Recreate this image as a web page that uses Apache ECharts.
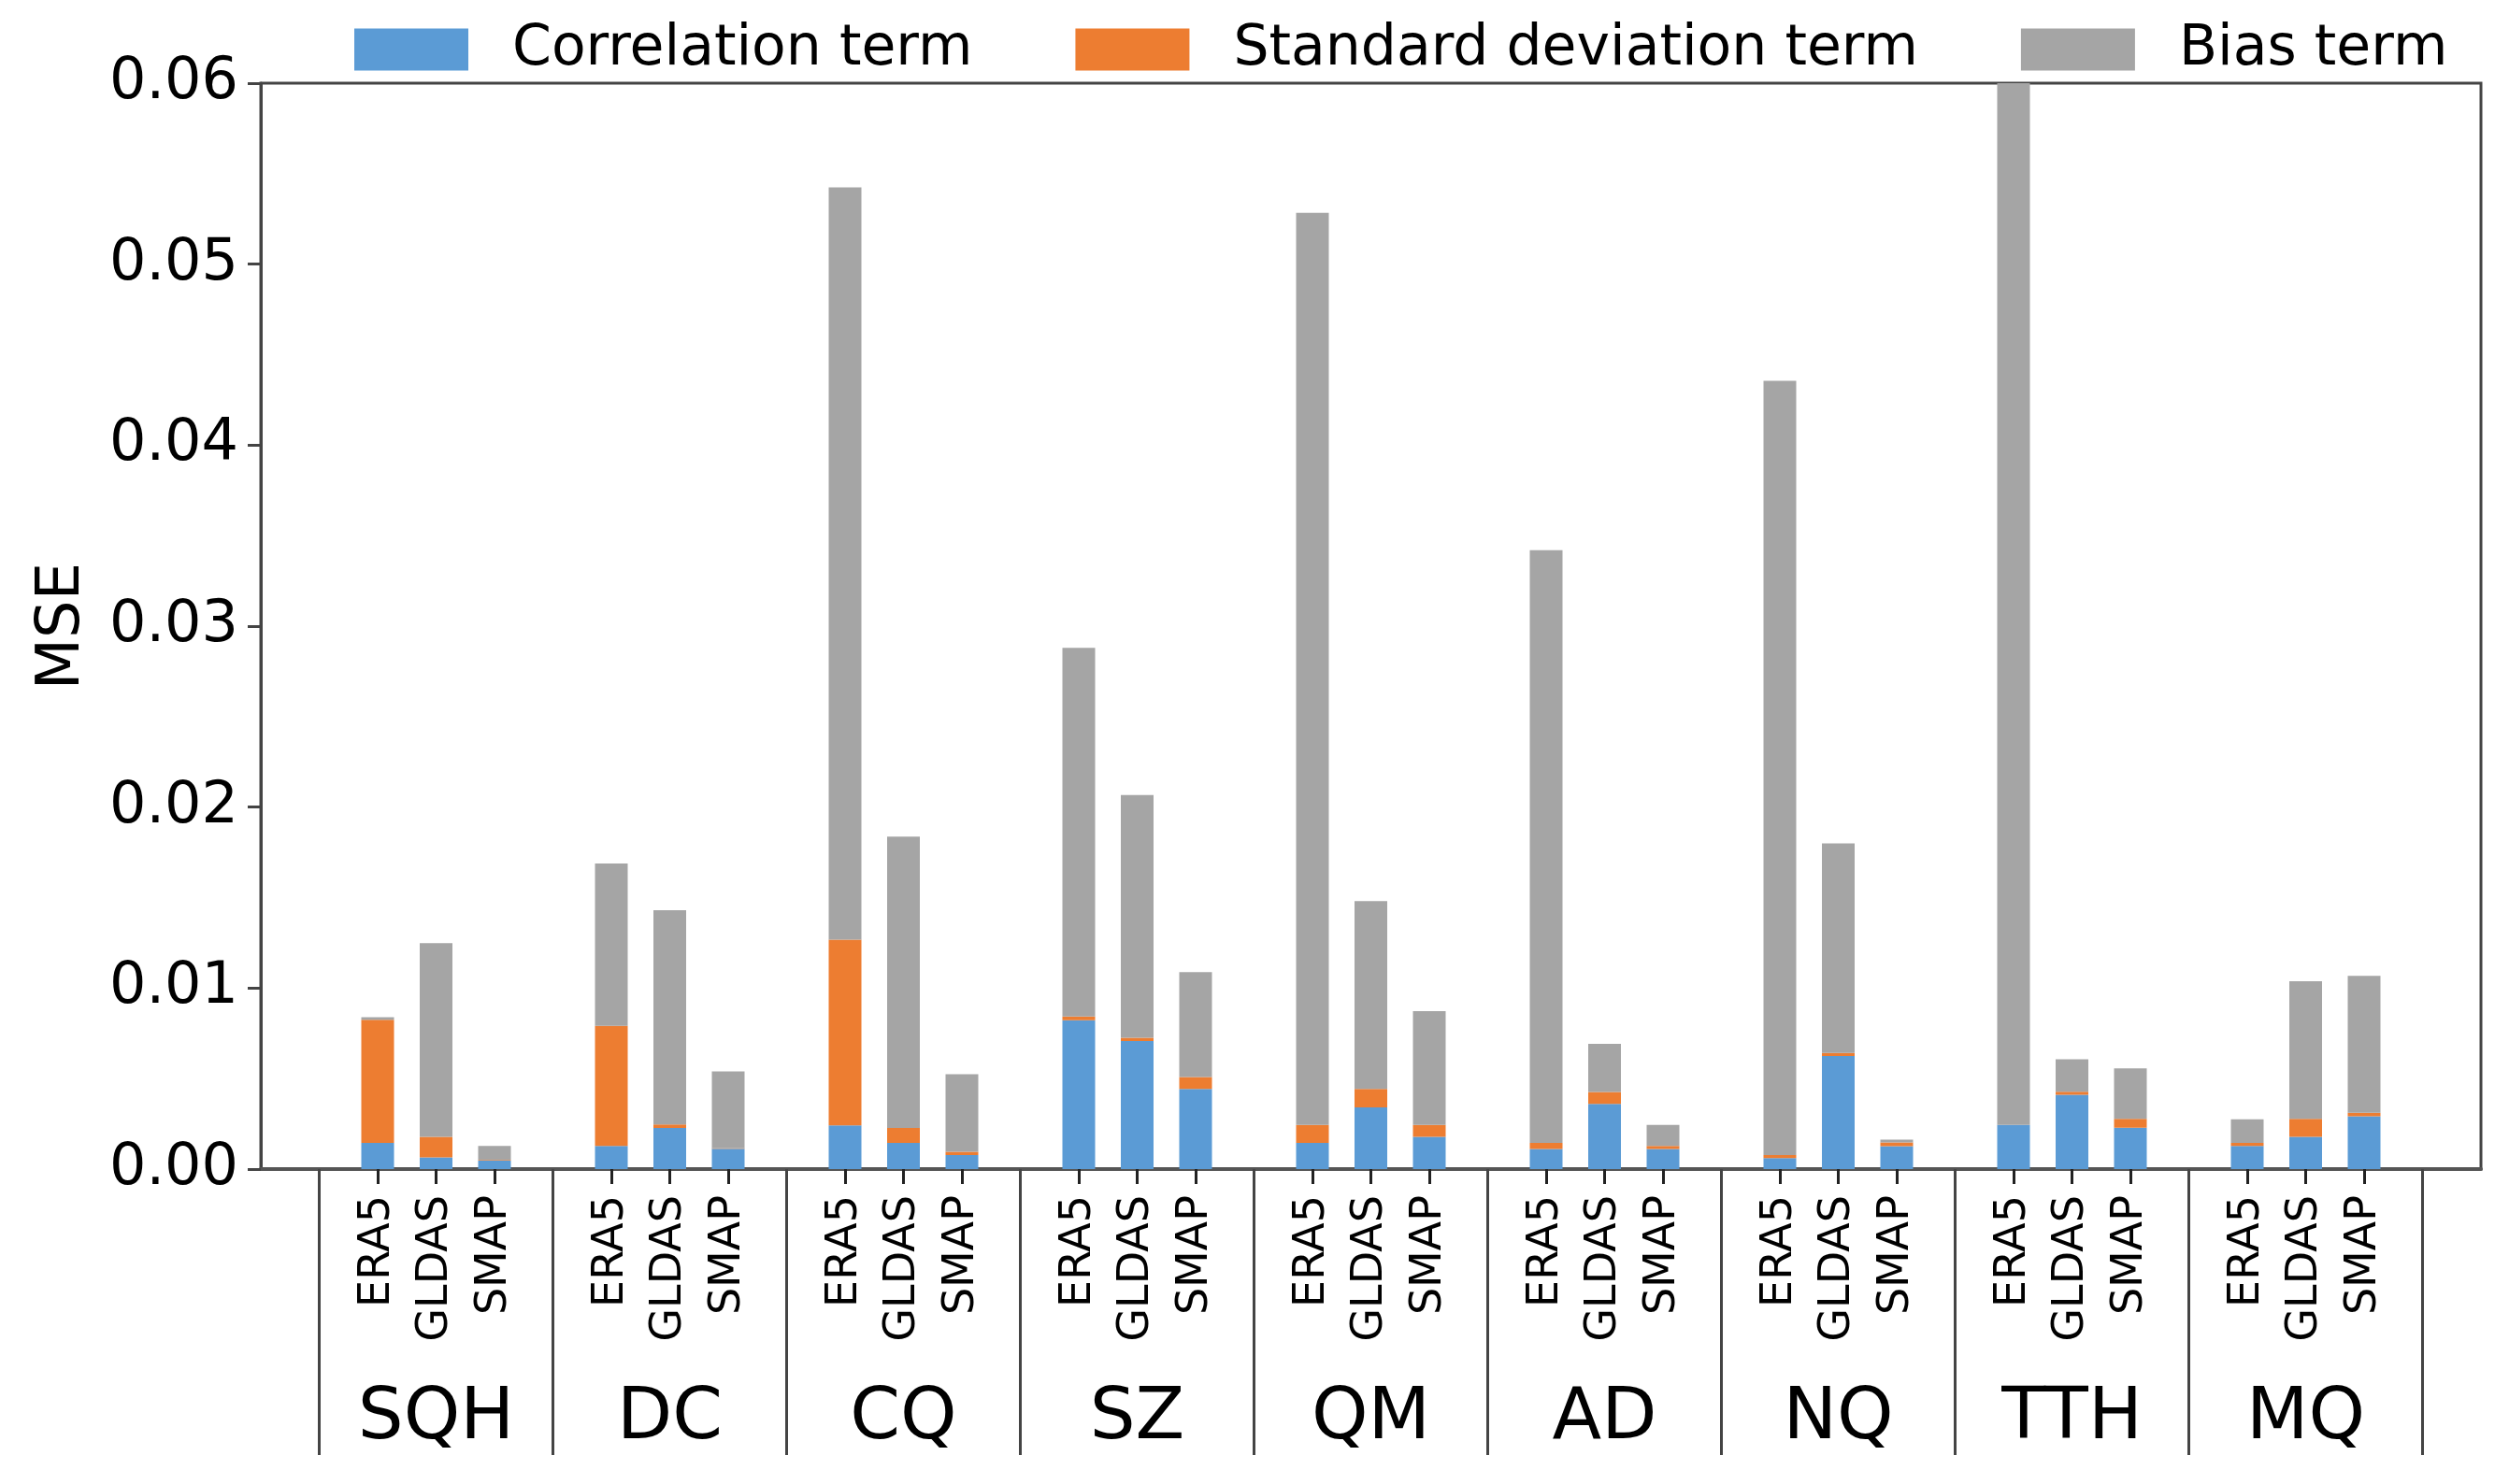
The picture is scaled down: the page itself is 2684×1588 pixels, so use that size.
<!DOCTYPE html>
<html>
<head>
<meta charset="utf-8">
<script src="https://cdn.jsdelivr.net/npm/echarts@6/dist/echarts.min.js"></script>
<style>
html,body{margin:0;padding:0;background:#fff;}
#chart{width:2684px;height:1588px;}
</style>
</head>
<body>
<div id="chart"></div>
<script>
// ---- data ----
const stations = ['SQH','DC','CQ','SZ','QM','AD','NQ','TTH','MQ'];
const products = ['ERA5','GLDAS','SMAP'];
// order: station by station, ERA5, GLDAS, SMAP
const corrTerm = [
  0.00144, 0.00064, 0.00047,
  0.00128, 0.00227, 0.00112,
  0.00242, 0.00144, 0.00078,
  0.00822, 0.00708, 0.00443,
  0.00144, 0.00341, 0.00178,
  0.00111, 0.00360, 0.00111,
  0.00061, 0.00625, 0.00126,
  0.00244, 0.00410, 0.00228,
  0.00128, 0.00178, 0.00292
];
const stdTerm = [
  0.00681, 0.00114, 0.00003,
  0.00663, 0.00020, 0.00003,
  0.01026, 0.00083, 0.00017,
  0.00021, 0.00017, 0.00066,
  0.00100, 0.00102, 0.00066,
  0.00034, 0.00066, 0.00017,
  0.00017, 0.00017, 0.00021,
  0.00000, 0.00017, 0.00049,
  0.00017, 0.00099, 0.00019
];
const biasTerm = [
  0.00014, 0.01070, 0.00078,
  0.00897, 0.01183, 0.00425,
  0.04156, 0.01610, 0.00429,
  0.02037, 0.01342, 0.00579,
  0.05039, 0.01037, 0.00628,
  0.03274, 0.00266, 0.00116,
  0.04277, 0.01158, 0.00016,
  0.05760, 0.00180, 0.00280,
  0.00130, 0.00761, 0.00756
];
const seriesNames = ['Correlation term','Standard deviation term','Bias term'];
const seriesColors = ['#5b9bd5','#ed7d31','#a5a5a5'];

// ---- slot layout: edge, [sep, ERA5, GLDAS, SMAP] x stations, sep, edge ----
const nSlots = stations.length * 4 + 3;
function slotInfo(i) {
  if (i === 0 || i === nSlots - 1) return {type: 'edge'};
  const s = i - 1, k = Math.floor(s / 4), r = s % 4;
  if (r === 0) return {type: 'sep', k: k};
  return {type: 'bar', k: k, j: r - 1};
}
const cats = [];
for (let i = 0; i < nSlots; i++) {
  const f = slotInfo(i);
  cats.push(f.type === 'bar' ? stations[f.k] + '|' + products[f.j] : f.type + i);
}
function slotData(arr) {
  const out = [];
  for (let i = 0; i < nSlots; i++) {
    const f = slotInfo(i);
    out.push(f.type === 'bar' ? arr[f.k * 3 + f.j] : '-');
  }
  return out;
}
const FONT = 'DejaVu Sans';
const chart = echarts.init(document.getElementById('chart'), null, {renderer: 'canvas'});
const dataArrs = [corrTerm, stdTerm, biasTerm];
chart.setOption({
  backgroundColor: '#fff',
  animation: false,
  textStyle: {fontFamily: FONT, color: '#000'},
  legend: {
    left: 374, top: 18,
    itemWidth: 122, itemHeight: 45, itemGap: 110,
    icon: 'rect',
    textStyle: {fontSize: 60, fontFamily: FONT, color: '#000', padding: [0, 0, 0, 42]},
    data: seriesNames
  },
  grid: {left: 279, right: 30, top: 89, bottom: 337, show: true, borderColor: '#444', borderWidth: 3, backgroundColor: 'transparent'},
  xAxis: [
    {
      type: 'category', data: cats, boundaryGap: false, position: 'bottom',
      axisLine: {show: true, lineStyle: {color: '#555', width: 4}},
      axisTick: {show: true, interval: (i) => slotInfo(i).type === 'bar', length: 16, lineStyle: {color: '#222', width: 3}},
      axisLabel: {
        show: true, interval: (i) => slotInfo(i).type === 'bar', rotate: 90, margin: 28,
        fontSize: 46, fontFamily: FONT, color: '#000',
        formatter: (v) => v.indexOf('|') >= 0 ? v.split('|')[1] : ''
      },
      splitLine: {show: false}
    },
    {
      type: 'category', data: cats, boundaryGap: false, position: 'bottom',
      axisLine: {show: false},
      axisTick: {show: true, interval: (i) => slotInfo(i).type === 'sep', length: 306, lineStyle: {color: '#444', width: 3}},
      axisLabel: {
        show: true, interval: (i) => { const f = slotInfo(i); return f.type === 'bar' && f.j === 1; },
        margin: 229, fontSize: 77, fontFamily: FONT, color: '#000',
        formatter: (v) => v.indexOf('|') >= 0 ? v.split('|')[0] : ''
      },
      splitLine: {show: false}
    }
  ],
  yAxis: {
    type: 'value', min: 0, max: 0.06, interval: 0.01,
    name: 'MSE', nameLocation: 'middle', nameRotate: 90, nameGap: 180,
    nameTextStyle: {fontSize: 64, fontFamily: FONT, color: '#000'},
    axisLine: {show: true, lineStyle: {color: '#444', width: 3}},
    axisTick: {show: true, length: 14, lineStyle: {color: '#444', width: 3}},
    axisLabel: {fontSize: 62, fontFamily: FONT, color: '#000', margin: 24, formatter: (v) => v.toFixed(2)},
    splitLine: {show: false}
  },
  series: seriesNames.map((nm, s) => ({
    name: nm, type: 'bar', stack: 'mse', xAxisIndex: 0,
    barWidth: 35, itemStyle: {color: seriesColors[s]},
    data: slotData(dataArrs[s])
  }))
});
</script>
</body>
</html>
